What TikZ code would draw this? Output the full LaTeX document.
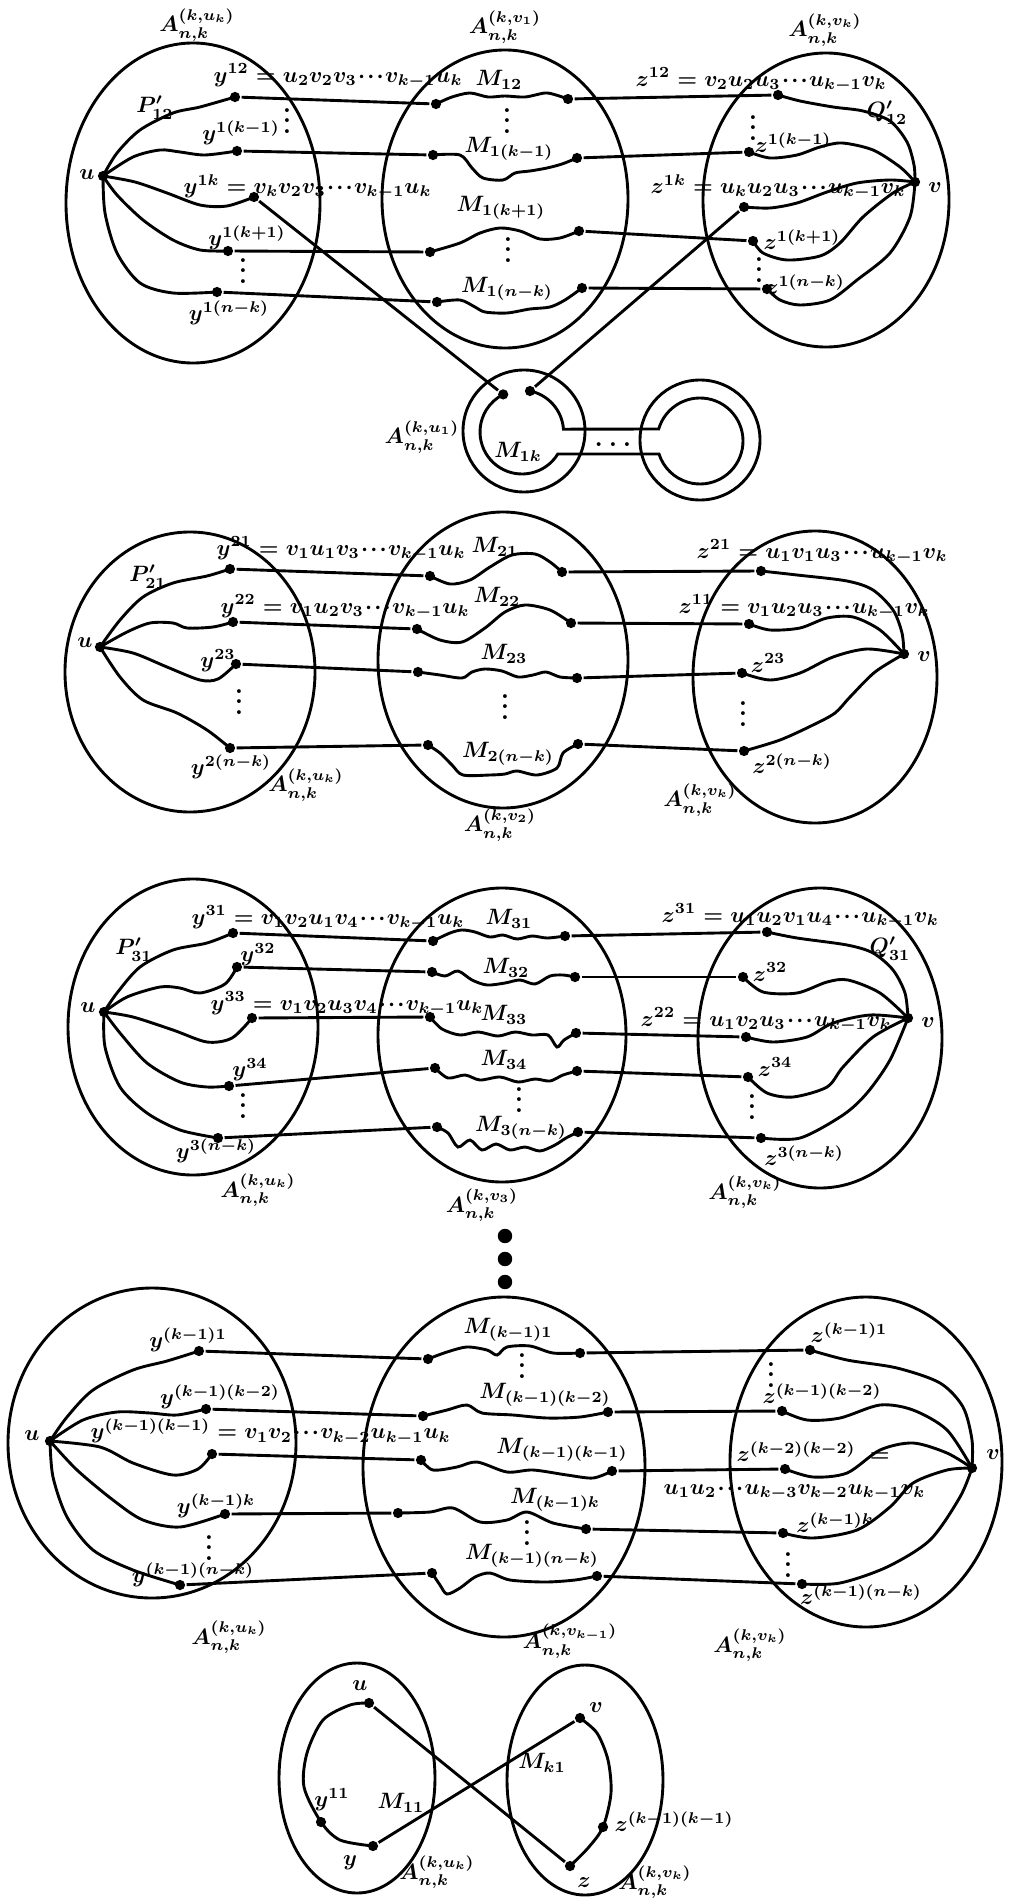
\documentclass[tikz,border=0pt]{standalone}
\usepackage{tikz}

\newcommand{\cdd}{\mkern1mu{\cdot}\mkern1.5mu{\cdot}\mkern1.5mu{\cdot}\mkern1mu}
\newcommand{\vdd}{\vbox{\baselineskip=4.6pt\lineskiplimit=0pt\hbox{\large\bfseries .}\hbox{\large\bfseries .}\hbox{\large\bfseries .}}}
\newcommand{\hdd}{{\large\bfseries .\hspace{2.6pt}.\hspace{2.6pt}.}}

\begin{document}
\begin{tikzpicture}[x=0.45pt,y=-0.45pt,line width=1.3pt,font=\boldmath,
  dot/.style={circle,fill,inner sep=0pt,minimum size=4.6pt},
  bigdot/.style={circle,fill,inner sep=0pt,minimum size=6.5pt},
  lab/.style={inner sep=1pt}]

  \useasboundingbox (0,0) rectangle (1014,1898);

  % ---------- first row
  \draw (193,203) ellipse [x radius=127,y radius=160];
  \draw (505,199) ellipse [x radius=123,y radius=149];
  \draw (826,200) ellipse [x radius=123,y radius=147];
  \draw (524,431) circle [radius=61];
  \draw (700,440) circle [radius=60];

  \node[dot] (u1) at (103,176) {};
  \node[dot] (v1) at (915,182) {};
  \node[dot] (y12) at (235,97) {};
  \node[dot] (y1km) at (237,151) {};
  \node[dot] (y1k) at (254,197) {};
  \node[dot] (y1kp) at (228,251) {};
  \node[dot] (y1nk) at (217,292) {};
  \node[dot] (a12) at (436,104) {};
  \node[dot] (b12) at (568,99) {};
  \node[dot] (a1km) at (433,155) {};
  \node[dot] (b1km) at (577,158) {};
  \node[dot] (a1kp) at (430,252) {};
  \node[dot] (b1kp) at (579,231) {};
  \node[dot] (a1nk) at (437,302) {};
  \node[dot] (b1nk) at (582,288) {};
  \node[dot] (z12) at (778,95) {};
  \node[dot] (z1km) at (749,152) {};
  \node[dot] (z1k) at (744,207) {};
  \node[dot] (z1kp) at (753,241) {};
  \node[dot] (z1nk) at (767,289) {};
  \node[dot] (r1a) at (503.2,394.4) {};
  \node[dot] (r1b) at (530,391) {};

  \node[lab] (lu1) at (87,175) {$u$};
  \node[lab] (lv1) at (935,188) {$v$};
  \node[lab] (lA1u) at (197,25) {$A_{n,k}^{(k,u_k)}$};
  \node[lab] (lA1m) at (505,27) {$A_{n,k}^{(k,v_1)}$};
  \node[lab] (lA1v) at (825,30) {$A_{n,k}^{(k,v_k)}$};
  \node[lab,anchor=west] (ly12) at (210,76) {$y^{12}=u_2v_2v_3\cdd v_{k-1}u_k$};
  \node[lab] (lP12) at (155,108) {$P'_{12}$};
  \node[lab] (ly1km) at (241,133) {$y^{1(k-1)}$};
  \node[lab,anchor=west] (ly1k) at (180,187) {$y^{1k}=v_kv_2v_3\cdd v_{k-1}u_k$};
  \node[lab] (ly1kp) at (247,238) {$y^{1(k+1)}$};
  \node[lab] (ly1nk) at (229,313) {$y^{1(n-k)}$};
  \node[lab] (lM12) at (499,80) {$M_{12}$};
  \node[lab] (lM1km) at (509,149) {$M_{1(k-1)}$};
  \node[lab] (lM1kp) at (501,208) {$M_{1(k+1)}$};
  \node[lab] (lM1nk) at (507,289) {$M_{1(n-k)}$};
  \node[lab,anchor=west] (lz12) at (632,80) {$z^{12}=v_2u_2u_3\cdd u_{k-1}v_k$};
  \node[lab] (lQ12) at (887,113) {$Q'_{12}$};
  \node[lab] (lz1km) at (793,143) {$z^{1(k-1)}$};
  \node[lab,anchor=west] (lz1k) at (647,187) {$z^{1k}=u_ku_2u_3\cdd u_{k-1}v_k$};
  \node[lab] (lz1kp) at (802,240) {$z^{1(k+1)}$};
  \node[lab] (lz1nk) at (805,285) {$z^{1(n-k)}$};
  \node[lab] (lA1r) at (422,437) {$A_{n,k}^{(k,u_1)}$};
  \node[lab] (lM1k) at (518,452) {$M_{1k}$};
  \node[lab] (lc1) at (613,445) {\hdd};
  \node[lab] (d1a) at (287,121) {\vdd};
  \node[lab] (d1b) at (243,271) {\vdd};
  \node[lab] (d1c) at (507,121) {\vdd};
  \node[lab] (d1d) at (508,250) {\vdd};
  \node[lab] (d1e) at (753,128) {\vdd};
  \node[lab] (d1f) at (759,270) {\vdd};

  \draw plot[smooth] coordinates {(u1) (117,153) (140,130) (173,113) (200,107) (y12)};
  \draw plot[smooth] coordinates {(u1) (133,157) (160,150) (180,152) (205,155) (y1km)};
  \draw plot[smooth] coordinates {(u1) (135,182) (167,193) (200,205) (227,206) (y1k)};
  \draw plot[smooth] coordinates {(u1) (117,195) (143,220) (173,240) (200,250) (y1kp)};
  \draw plot[smooth] coordinates {(u1) (105,213) (117,253) (140,283) (173,293) (y1nk)};
  \draw plot[smooth] coordinates {(a12) (452,97) (470,93) (488,97) (505,96) (525,97) (545,93) (556,95) (b12)};
  \draw plot[smooth] coordinates {(a1km) (460,155) (472,168) (483,178) (503,180) (515,173) (530,171) (547,168) (562,164) (b1km)};
  \draw plot[smooth] coordinates {(a1kp) (460,243) (480,233) (500,228) (520,231) (540,239) (560,238) (b1kp)};
  \draw plot[smooth] coordinates {(a1nk) (460,300) (475,307) (485,312) (507,313) (530,309) (550,307) (565,300) (b1nk)};
  \draw plot[smooth] coordinates {(z12) (800,101) (833,107) (863,111) (890,121) (907,142) (914,165) (v1)};
  \draw plot[smooth] coordinates {(z1km) (770,158) (797,155) (820,147) (842,143) (873,150) (900,167) (v1)};
  \draw plot[smooth] coordinates {(z1k) (770,208) (797,203) (827,192) (857,183) (890,180) (v1)};
  \draw plot[smooth] coordinates {(z1kp) (763,253) (787,260) (820,256) (840,243) (863,217) (893,193) (v1)};
  \draw plot[smooth] coordinates {(z1nk) (780,300) (800,305) (830,300) (857,280) (890,253) (910,217) (v1)};
  \draw (r1b.center) arc[start angle=-78.4,end angle=-4,radius=42] -- (658.7,429)
    arc[start angle=196.2,end angle=522.4,radius=43] -- (557.8,454)
    arc[start angle=31.6,end angle=243.4,radius=42];

  \path (y12) edge (a12) (y1km) edge (a1km) (y1kp) edge (a1kp) (y1nk) edge (a1nk)
    (b12) edge (z12) (b1km) edge (z1km) (b1kp) edge (z1kp) (b1nk) edge (z1nk)
    (y1k) edge (r1a) (z1k) edge (r1b);

  % ---------- second row
  \draw (190,672) ellipse [x radius=125,y radius=140];
  \draw (503,660) ellipse [x radius=125,y radius=148];
  \draw (815,677) ellipse [x radius=122,y radius=146];

  \node[dot] (u2) at (100,647) {};
  \node[dot] (v2) at (904,654) {};
  \node[dot] (y21) at (230,569) {};
  \node[dot] (y22) at (233,622) {};
  \node[dot] (y23) at (236,664) {};
  \node[dot] (y2nk) at (230,748) {};
  \node[dot] (a21) at (430,576) {};
  \node[dot] (b21) at (562,572) {};
  \node[dot] (a22) at (417,629) {};
  \node[dot] (b22) at (571,623) {};
  \node[dot] (a23) at (418,672) {};
  \node[dot] (b23) at (577,678) {};
  \node[dot] (a2nk) at (428,745) {};
  \node[dot] (b2nk) at (578,744) {};
  \node[dot] (z21) at (761,571) {};
  \node[dot] (z11) at (749,624) {};
  \node[dot] (z23) at (742,673) {};
  \node[dot] (z2nk) at (744,751) {};

  \node[lab] (lu2) at (85,643) {$u$};
  \node[lab] (lv2) at (924,657) {$v$};
  \node[lab,anchor=west] (ly21) at (213,549) {$y^{21}=v_1u_1v_3\cdd v_{k-1}u_k$};
  \node[lab] (lP21) at (148,577) {$P'_{21}$};
  \node[lab,anchor=west] (ly22) at (217,607) {$y^{22}=v_1u_2v_3\cdd v_{k-1}u_k$};
  \node[lab] (ly23) at (218,661) {$y^{23}$};
  \node[lab] (ly2nk) at (231,767) {$y^{2(n-k)}$};
  \node[lab] (lA2u) at (306,785) {$A_{n,k}^{(k,u_k)}$};
  \node[lab] (lM21) at (495,547) {$M_{21}$};
  \node[lab] (lM22) at (497,597) {$M_{22}$};
  \node[lab] (lM23) at (504,654) {$M_{23}$};
  \node[lab] (lM2nk) at (508,754) {$M_{2(n-k)}$};
  \node[lab] (lA2m) at (500,825) {$A_{n,k}^{(k,v_2)}$};
  \node[lab,anchor=west] (lz21) at (693,552) {$z^{21}=u_1v_1u_3\cdd u_{k-1}v_k$};
  \node[lab,anchor=west] (lz11) at (675,607) {$z^{11}=v_1u_2u_3\cdd u_{k-1}v_k$};
  \node[lab] (lz23) at (768,663) {$z^{23}$};
  \node[lab] (lz2nk) at (792,764) {$z^{2(n-k)}$};
  \node[lab] (lA2v) at (700,800) {$A_{n,k}^{(k,v_k)}$};
  \node[lab] (d2a) at (239,702) {\vdd};
  \node[lab] (d2b) at (505,707) {\vdd};
  \node[lab] (d2c) at (743,714) {\vdd};

  \draw plot[smooth] coordinates {(u2) (120,620) (143,597) (173,583) (207,576) (y21)};
  \draw plot[smooth] coordinates {(u2) (127,632) (150,623) (173,623) (187,628) (213,627) (y22)};
  \draw plot[smooth] coordinates {(u2) (133,653) (167,667) (200,680) (218,679) (y23)};
  \draw plot[smooth] coordinates {(u2) (120,677) (143,700) (177,713) (207,730) (y2nk)};
  \draw plot[smooth] coordinates {(a21) (450,584) (470,580) (490,567) (512,555) (535,554) (550,562) (b21)};
  \draw plot[smooth] coordinates {(a22) (440,640) (462,642) (485,628) (505,612) (525,605) (550,610) (b22)};
  \draw plot[smooth] coordinates {(a23) (440,675) (462,678) (472,672) (485,669) (502,671) (518,677) (533,675) (546,672) (560,677) (b23)};
  \draw plot[smooth] coordinates {(a2nk) (440,753) (452,765) (463,775) (490,775) (505,774) (517,771) (537,775) (557,768) (563,753) (b2nk)};
  \draw plot[smooth] coordinates {(z21) (797,575) (847,581) (873,590) (893,610) (902,633) (v2)};
  \draw plot[smooth] coordinates {(z11) (770,630) (800,628) (827,618) (853,617) (880,630) (v2)};
  \draw plot[smooth] coordinates {(z23) (770,680) (800,673) (833,657) (867,649) (v2)};
  \draw plot[smooth] coordinates {(z2nk) (780,740) (813,725) (835,713) (850,697) (875,672) (v2)};

  \path (y21) edge (a21) (y22) edge (a22) (y23) edge (a23) (y2nk) edge (a2nk)
    (b21) edge (z21) (b22) edge (z11) (b23) edge (z23) (b2nk) edge (z2nk);

  % ---------- third row
  \draw (193,1027) ellipse [x radius=125,y radius=148];
  \draw (502,1035) ellipse [x radius=124,y radius=147];
  \draw (820,1038) ellipse [x radius=122,y radius=150];

  \node[dot] (u3) at (104,1012) {};
  \node[dot] (v3) at (908,1018) {};
  \node[dot] (y31) at (233,933) {};
  \node[dot] (y32) at (237,967) {};
  \node[dot] (y33) at (252,1018) {};
  \node[dot] (y34) at (229,1086) {};
  \node[dot] (y3nk) at (218,1138) {};
  \node[dot] (a31) at (433,941) {};
  \node[dot] (b31) at (565,936) {};
  \node[dot] (a32) at (432,972) {};
  \node[dot] (b32) at (575,977) {};
  \node[dot] (a33) at (430,1017) {};
  \node[dot] (b33) at (576,1033) {};
  \node[dot] (a34) at (435,1068) {};
  \node[dot] (b34) at (577,1071) {};
  \node[dot] (a3nk) at (437,1127) {};
  \node[dot] (b3nk) at (578,1132) {};
  \node[dot] (z31) at (767,932) {};
  \node[dot] (z32) at (743,977) {};
  \node[dot] (z22) at (746,1037) {};
  \node[dot] (z34) at (748,1077) {};
  \node[dot] (z3nk) at (761,1138) {};

  \node[lab] (lu3) at (88,1008) {$u$};
  \node[lab] (lv3) at (928,1023) {$v$};
  \node[lab,anchor=west] (ly31) at (188,918) {$y^{31}=v_1v_2u_1v_4\cdd v_{k-1}u_k$};
  \node[lab] (lP31) at (134,950) {$P'_{31}$};
  \node[lab] (ly32) at (258,955) {$y^{32}$};
  \node[lab,anchor=west] (ly33) at (207,1004) {$y^{33}=v_1v_2u_3v_4\cdd v_{k-1}u_k$};
  \node[lab] (ly34) at (250,1070) {$y^{34}$};
  \node[lab] (ly3nk) at (216,1151) {$y^{3(n-k)}$};
  \node[lab] (lA3u) at (258,1190) {$A_{n,k}^{(k,u_k)}$};
  \node[lab] (lM31) at (509,919) {$M_{31}$};
  \node[lab] (lM32) at (506,968) {$M_{32}$};
  \node[lab] (lM33) at (504,1015) {$M_{33}$};
  \node[lab] (lM34) at (504,1060) {$M_{34}$};
  \node[lab] (lM3nk) at (521,1128) {$M_{3(n-k)}$};
  \node[lab] (lA3m) at (482,1205) {$A_{n,k}^{(k,v_3)}$};
  \node[lab,anchor=west] (lz31) at (658,916) {$z^{31}=u_1u_2v_1u_4\cdd u_{k-1}v_k$};
  \node[lab] (lQ31) at (890,949) {$Q'_{31}$};
  \node[lab] (lz32) at (770,972) {$z^{32}$};
  \node[lab,anchor=west] (lz22) at (637,1020) {$z^{22}=u_1v_2u_3\cdd u_{k-1}v_k$};
  \node[lab] (lz34) at (775,1067) {$z^{34}$};
  \node[lab] (lz3nk) at (804,1156) {$z^{3(n-k)}$};
  \node[lab] (lA3v) at (745,1192) {$A_{n,k}^{(k,v_k)}$};
  \node[lab] (d3a) at (243,1106) {\vdd};
  \node[lab] (d3b) at (519,1100) {\vdd};
  \node[lab] (d3c) at (752,1107) {\vdd};

  \draw plot[smooth] coordinates {(u3) (117,993) (140,967) (173,950) (207,943) (y31)};
  \draw plot[smooth] coordinates {(u3) (127,997) (160,987) (180,988) (200,993) (225,984) (y32)};
  \draw plot[smooth] coordinates {(u3) (133,1017) (173,1030) (207,1042) (232,1038) (y33)};
  \draw plot[smooth] coordinates {(u3) (120,1033) (147,1063) (180,1082) (207,1087) (y34)};
  \draw plot[smooth] coordinates {(u3) (105,1047) (120,1087) (147,1113) (180,1130) (y3nk)};
  \draw plot[smooth] coordinates {(a31) (450,933) (462,930) (475,932) (490,937) (503,935) (517,939) (532,936) (547,938) (b31)};
  \draw plot[smooth] coordinates {(a32) (445,976) (458,971) (472,980) (487,985) (505,983) (520,980) (535,984) (550,976) (563,975) (b32)};
  \draw plot[smooth] coordinates {(a33) (442,1029) (460,1035) (478,1032) (498,1036) (515,1032) (532,1035) (548,1035) (557,1047) (564,1040) (b33)};
  \draw plot[smooth] coordinates {(a34) (448,1078) (465,1075) (480,1080) (500,1077) (518,1082) (535,1079) (550,1081) (563,1075) (b34)};
  \draw plot[smooth] coordinates {(a3nk) (448,1133) (458,1147) (470,1140) (482,1150) (496,1144) (510,1150) (525,1147) (540,1151) (555,1145) (566,1138) (b3nk)};
  \draw plot[smooth] coordinates {(z31) (797,938) (847,945) (873,953) (893,970) (905,993) (v3)};
  \draw plot[smooth] coordinates {(z32) (763,992) (797,993) (827,982) (848,980) (880,993) (v3)};
  \draw plot[smooth] coordinates {(z22) (773,1042) (807,1037) (833,1023) (870,1015) (v3)};
  \draw plot[smooth] coordinates {(z34) (767,1093) (793,1097) (827,1087) (843,1067) (873,1037) (v3)};
  \draw plot[smooth] coordinates {(z3nk) (800,1138) (843,1115) (867,1093) (890,1060) (v3)};

  \path (y31) edge (a31) (y32) edge (a32) (y33) edge (a33) (y34) edge (a34) (y3nk) edge (a3nk)
    (b31) edge (z31) (b32) edge (z32) (b33) edge (z22) (b34) edge (z34) (b3nk) edge (z3nk);

  \node[bigdot] (g1) at (505,1236) {};
  \node[bigdot] (g2) at (505,1259) {};
  \node[bigdot] (g3) at (505,1282) {};

  % ---------- fourth row
  \draw (152,1443) ellipse [x radius=144,y radius=155];
  \draw (504,1467) ellipse [x radius=141,y radius=170];
  \draw (866,1462) ellipse [x radius=136,y radius=165];

  \node[dot] (u4) at (50,1441) {};
  \node[dot] (v4) at (972,1468) {};
  \node[dot] (y41) at (199,1351) {};
  \node[dot] (y4a) at (206,1409) {};
  \node[dot] (y4b) at (212,1454) {};
  \node[dot] (y4k) at (225,1514) {};
  \node[dot] (y4nk) at (180,1585) {};
  \node[dot] (a41) at (428,1359) {};
  \node[dot] (b41) at (580,1353) {};
  \node[dot] (a4a) at (423,1416) {};
  \node[dot] (b4a) at (608,1412) {};
  \node[dot] (a4b) at (421,1460) {};
  \node[dot] (b4b) at (612,1471) {};
  \node[dot] (a4k) at (398,1513) {};
  \node[dot] (b4k) at (586,1529) {};
  \node[dot] (a4nk) at (432,1573) {};
  \node[dot] (b4nk) at (597,1576) {};
  \node[dot] (z41) at (810,1350) {};
  \node[dot] (z4a) at (782,1411) {};
  \node[dot] (z4b) at (785,1469) {};
  \node[dot] (z4k) at (783,1533) {};
  \node[dot] (z4nk) at (802,1584) {};

  \node[lab] (lu4) at (32,1436) {$u$};
  \node[lab] (lv4) at (993,1455) {$v$};
  \node[lab] (ly41) at (188,1340) {$y^{(k-1)1}$};
  \node[lab] (ly4a) at (220,1397) {$y^{(k-1)(k-2)}$};
  \node[lab,anchor=west] (ly4b) at (87,1432) {$y^{(k-1)(k-1)}=v_1v_2\cdd v_{k-2}u_{k-1}u_k$};
  \node[lab] (ly4k) at (216,1506) {$y^{(k-1)k}$};
  \node[lab] (ly4nk) at (193,1575) {$y^{(k-1)(n-k)}$};
  \node[lab] (lA4u) at (229,1637) {$A_{n,k}^{(k,u_k)}$};
  \node[lab] (lM41) at (508,1330) {$M_{(k-1)1}$};
  \node[lab] (lM4a) at (545,1395) {$M_{(k-1)(k-2)}$};
  \node[lab] (lM4b) at (562,1450) {$M_{(k-1)(k-1)}$};
  \node[lab] (lM4k) at (555,1500) {$M_{(k-1)k}$};
  \node[lab] (lM4nk) at (532,1556) {$M_{(k-1)(n-k)}$};
  \node[lab] (lA4m) at (570,1641) {$A_{n,k}^{(k,v_{k-1})}$};
  \node[lab] (lz41) at (849,1333) {$z^{(k-1)1}$};
  \node[lab] (lz4a) at (822,1394) {$z^{(k-1)(k-2)}$};
  \node[lab,anchor=west] (lz4b) at (733,1452) {$z^{(k-2)(k-2)}\;=$};
  \node[lab,anchor=west] (lz4c) at (660,1492) {$u_1u_2\cdd u_{k-3}v_{k-2}u_{k-1}v_k$};
  \node[lab] (lz4k) at (835,1523) {$z^{(k-1)k}$};
  \node[lab] (lz4nk) at (861,1595) {$z^{(k-1)(n-k)}$};
  \node[lab] (lA4v) at (750,1645) {$A_{n,k}^{(k,v_k)}$};
  \node[lab] (d4a) at (209,1548) {\vdd};
  \node[lab] (d4b) at (522,1366) {\vdd};
  \node[lab] (d4c) at (527,1533) {\vdd};
  \node[lab] (d4d) at (771,1375) {\vdd};
  \node[lab] (d4e) at (788,1565) {\vdd};

  \draw plot[smooth] coordinates {(u4) (67,1417) (93,1390) (133,1370) (167,1361) (y41)};
  \draw plot[smooth] coordinates {(u4) (83,1420) (117,1412) (150,1413) (177,1415) (y4a)};
  \draw plot[smooth] coordinates {(u4) (100,1447) (133,1463) (173,1475) (198,1469) (y4b)};
  \draw plot[smooth] coordinates {(u4) (77,1470) (113,1500) (143,1520) (180,1527) (y4k)};
  \draw plot[smooth] coordinates {(u4) (53,1477) (67,1517) (93,1550) (133,1570) (y4nk)};
  \draw plot[smooth] coordinates {(a41) (447,1352) (467,1347) (487,1350) (497,1355) (507,1347) (530,1346) (553,1353) (b41)};
  \draw plot[smooth] coordinates {(a4a) (447,1410) (467,1405) (482,1413) (513,1415) (547,1418) (580,1417) (b4a)};
  \draw plot[smooth] coordinates {(a4b) (433,1470) (457,1467) (477,1462) (507,1472) (533,1470) (567,1475) (593,1478) (b4b)};
  \draw plot[smooth] coordinates {(a4k) (430,1512) (453,1508) (480,1522) (507,1520) (527,1512) (553,1523) (b4k)};
  \draw plot[smooth] coordinates {(a4nk) (440,1585) (447,1594) (460,1588) (475,1577) (490,1573) (510,1580) (545,1582) (575,1580) (b4nk)};
  \draw plot[smooth] coordinates {(z41) (847,1360) (897,1368) (940,1383) (963,1407) (972,1440) (v4)};
  \draw plot[smooth] coordinates {(z4a) (807,1420) (840,1418) (880,1405) (913,1410) (947,1430) (v4)};
  \draw plot[smooth] coordinates {(z4b) (813,1477) (847,1473) (880,1450) (913,1443) (947,1453) (v4)};
  \draw plot[smooth] coordinates {(z4k) (813,1538) (857,1530) (890,1507) (913,1483) (947,1470) (v4)};
  \draw plot[smooth] coordinates {(z4nk) (840,1583) (887,1567) (930,1540) (960,1497) (v4)};

  \path (y41) edge (a41) (y4a) edge (a4a) (y4b) edge (a4b) (y4k) edge (a4k) (y4nk) edge (a4nk)
    (b41) edge (z41) (b4a) edge (z4a) (b4b) edge (z4b) (b4k) edge (z4k) (b4nk) edge (z4nk);

  % ---------- last row
  \draw (357,1778) ellipse [x radius=78,y radius=115];
  \draw (585,1780) ellipse [x radius=78,y radius=115];

  \node[dot] (u5) at (369,1703) {};
  \node[dot] (y511) at (321,1822) {};
  \node[dot] (y5) at (373,1846) {};
  \node[dot] (v5) at (580,1718) {};
  \node[dot] (z5kk) at (603,1827) {};
  \node[dot] (z5) at (570,1866) {};

  \node[lab] (lu5) at (360,1686) {$u$};
  \node[lab] (ly511) at (332,1800) {$y^{11}$};
  \node[lab] (lM11) at (401,1803) {$M_{11}$};
  \node[lab] (ly5) at (350,1863) {$y$};
  \node[lab] (lA5u) at (437,1872) {$A_{n,k}^{(k,u_k)}$};
  \node[lab] (lv5) at (596,1708) {$v$};
  \node[lab] (lMk1) at (542,1763) {$M_{k1}$};
  \node[lab] (lz5kk) at (674,1822) {$z^{(k-1)(k-1)}$};
  \node[lab] (lz5) at (584,1883) {$z$};
  \node[lab] (lA5v) at (655,1882) {$A_{n,k}^{(k,v_k)}$};

  \draw plot[smooth] coordinates {(u5) (350,1705) (323,1720) (307,1753) (304,1787) (y511) (340,1840) (y5)};
  \draw plot[smooth] coordinates {(v5) (597,1733) (608,1760) (611,1793) (z5kk) (588,1848) (z5)};
  \path (u5) edge (z5) (y5) edge (v5);

\end{tikzpicture}
\end{document}
